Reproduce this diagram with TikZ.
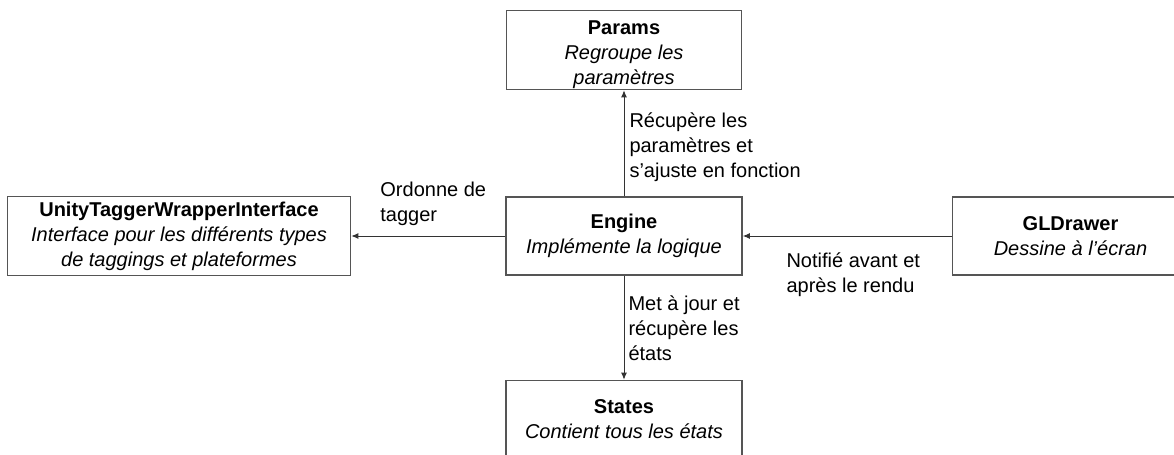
\documentclass[tikz,border=0pt]{standalone}
\usepackage{fontspec}
\setmainfont{Liberation Sans}
\usepackage{xcolor}
\usepackage{tikz}
\usetikzlibrary{
  arrows.meta,
  positioning
}
\definecolor{BoxGray}{HTML}{555555}
\definecolor{LineDark}{HTML}{333333}
\tikzset{
  box/.style={
    draw=BoxGray,
    line width=0.75pt,
    align=center,
    inner sep=0pt,
    minimum width=118pt,
    minimum height=39pt,
    font=\fontsize{10}{12.5}\selectfont
  },
  link/.style={
    -{Latex[length=3.6pt,width=3pt]},
    draw=LineDark,
    line width=0.5pt
  },
  linklabel/.style={
    align=left,
    inner sep=0pt,
    font=\fontsize{10}{12.5}\selectfont
  }
}

\begin{document}
\begin{tikzpicture}[
  x=0.5pt,
  y=-0.5pt
]

  \useasboundingbox (0,0) rectangle (1174,455);

  \node[box] (engine) at (624,236) {
    \textbf{Engine}\\
    \textit{Implémente la logique}
  };

  \node[
    box,
    minimum width=117.5pt,
    minimum height=39.5pt,
    above=53pt of engine
  ] (params) {
    \rule{0pt}{11.2pt}\textbf{Params}\\
    \textit{Regroupe les}\\
    \textit{paramètres}
  };

  \node[
    box,
    minimum width=171.5pt,
    minimum height=39.5pt,
    left=77pt of engine
  ] (unity) {
    \textbf{UnityTaggerWrapperInterface}\\
    \textit{Interface pour les différents types}\\
    \textit{de taggings et plateformes}
  };

  \node[
    box,
    right=104.5pt of engine
  ] (gldrawer) {
    \textbf{GLDrawer}\\
    \textit{Dessine à l’écran}
  };

  \node[
    box,
    below=52pt of engine
  ] (states) {
    \textbf{States}\\
    \textit{Contient tous les états}
  };

  \draw[link]
  (engine.north) --
  node[
    linklabel,
    midway,
    anchor=west,
    xshift=2.5pt,
    yshift=-2pt
  ] {
    Récupère les\\
    paramètres et\\
    s'ajuste en fonction
  }
  (params.south);

  \draw[link]
  (engine.west) --
  node[
    linklabel,
    midway,
    anchor=south,
    yshift=5pt,
    xshift=2.5pt
  ] {
    Ordonne de\\
    tagger
  }
  (unity.east);

  \draw[link]
  (gldrawer.west) --
  node[
    linklabel,
    midway,
    anchor=north,
    yshift=-8pt,
    xshift=3pt
  ] {
    Notifié avant et\\
    après le rendu
  }
  (engine.east);

  \draw[link]
  (engine.south) --
  node[
    linklabel,
    midway,
    anchor=west,
    xshift=2pt
  ] {
    Met à jour et\\
    récupère les\\
    états
  }
  (states.north);

\end{tikzpicture}
\end{document}
